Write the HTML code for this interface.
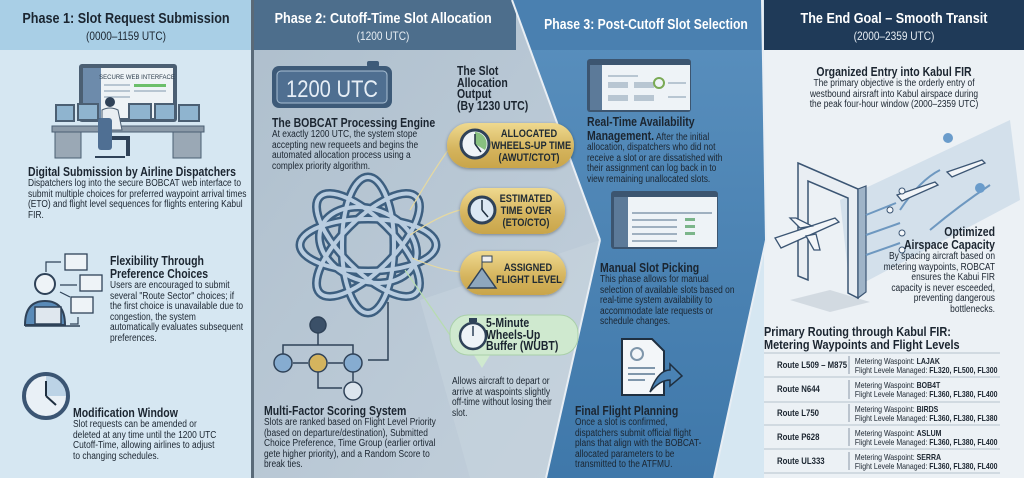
<!DOCTYPE html>
<html><head><meta charset="utf-8">
<style>
*{margin:0;padding:0;box-sizing:border-box}
body{width:1024px;height:478px;overflow:hidden;position:relative;font-family:"Liberation Sans",sans-serif;color:#1b2530;background:#d6e7f2}
.a{position:absolute;transform:scaleX(.84);transform-origin:0 0}
.r{transform-origin:100% 0}
.c{transform-origin:50% 0}
.h{font-weight:bold;font-size:12.5px;line-height:13px;white-space:nowrap}
.t{font-size:10px;line-height:10.6px}
.ht{font-weight:bold;font-size:15px;text-align:center;white-space:nowrap}
.sub{font-size:12px;text-align:center}
.pill{position:absolute;border-radius:22px;background:linear-gradient(180deg,#efd98f,#d4b35c 60%,#c9a54a);box-shadow:0 1px 3px rgba(0,0,0,.35)}
.pt{position:absolute;font-weight:bold;font-size:11px;line-height:12px;text-align:center;color:#1f2a33;white-space:nowrap;transform:scaleX(.84);transform-origin:50% 0}
</style></head><body>
<svg style="position:absolute;left:0;top:0" width="1024" height="478">
<defs>
<linearGradient id="g2" x1="0" y1="0" x2="1" y2="1"><stop offset="0" stop-color="#aebfcd"/><stop offset="1" stop-color="#c3d0dc"/></linearGradient>
<linearGradient id="g3" x1="0" y1="0" x2="0" y2="1"><stop offset="0" stop-color="#5a90be"/><stop offset="1" stop-color="#3f78aa"/></linearGradient>
</defs>
<rect x="0" y="0" width="252" height="478" fill="#d6e7f2"/>
<rect x="0" y="0" width="252" height="50" fill="#a9cfe6"/>
<rect x="254" y="0" width="350" height="478" fill="url(#g2)"/>
<polygon points="420,300 600,240 546,478 470,478" fill="#c6d3de" opacity=".6"/>
<rect x="254" y="0" width="262" height="50" fill="#4d6e8c"/>
<rect x="764" y="0" width="260" height="478" fill="#ecf1f5"/>
<rect x="764" y="0" width="260" height="50" fill="#1f3a58"/>
<polygon points="512,0 762,0 766,240 714,478 546,478 600,240" fill="url(#g3)"/>
<polygon points="512,0 762,0 762,50 530,50" fill="#4a80b0"/>
<line x1="512" y1="0" x2="600" y2="240" stroke="#e8eef4" stroke-width="2"/>
<line x1="600" y1="240" x2="546" y2="478" stroke="#e8eef4" stroke-width="2"/>
<line x1="762" y1="0" x2="766" y2="240" stroke="#e8eef4" stroke-width="2"/>
<line x1="766" y1="240" x2="714" y2="478" stroke="#e8eef4" stroke-width="2"/>
<rect x="251" y="0" width="3" height="478" fill="#5a6a78"/>

<rect x="79" y="64" width="98" height="58" rx="3" fill="#4b5f73"/>
<rect x="83" y="68" width="18" height="50" fill="#6d8bab"/>
<rect x="101" y="68" width="72" height="50" fill="#eef3f6"/>
<text x="137" y="79" font-size="6" text-anchor="middle" fill="#2d3d4c" font-family="Liberation Sans">SECURE WEB INTERFACE</text>
<rect x="134" y="84" width="32" height="3" fill="#6cbf6a"/>
<g fill="#b8c6d2"><rect x="104" y="84" width="26" height="2"/><rect x="104" y="90" width="26" height="2"/><rect x="104" y="96" width="26" height="2"/><rect x="134" y="90" width="32" height="2"/></g>
<g fill="#4b5f73">
<rect x="55" y="104" width="20" height="18"/><rect x="77" y="103" width="22" height="18"/><rect x="128" y="103" width="24" height="18"/><rect x="154" y="103" width="22" height="18"/><rect x="178" y="104" width="22" height="18"/>
</g>
<g fill="#8fb4cf"><rect x="57" y="106" width="16" height="14"/><rect x="79" y="105" width="18" height="14"/><rect x="130" y="105" width="20" height="14"/><rect x="156" y="105" width="18" height="14"/><rect x="180" y="106" width="18" height="14"/></g>
<rect x="52" y="126" width="152" height="6" fill="#8b9aa8" stroke="#4b5f73"/>
<rect x="55" y="132" width="26" height="26" fill="#9aa8b5" stroke="#4b5f73"/>
<rect x="173" y="132" width="28" height="26" fill="#9aa8b5" stroke="#4b5f73"/>
<circle cx="110" cy="102" r="5" fill="#2f4258"/>
<path d="M102 110 q8-4 16 0 l4 20 h-20z" fill="#e9eef2" stroke="#4b5f73"/>
<rect x="98" y="118" width="14" height="32" rx="3" fill="#4f6f93"/>
<path d="M112 138 h16 v18" stroke="#2f4258" stroke-width="4" fill="none"/>
<line x1="95" y1="157" x2="125" y2="157" stroke="#2f4258" stroke-width="2"/>

<circle cx="45" cy="284" r="10" fill="#eef3f7" stroke="#2f4258" stroke-width="2"/>
<path d="M25 325 q0-24 20-24 q20 0 20 24z" fill="#5a8bb8" stroke="#2f4258" stroke-width="2"/>
<rect x="35" y="307" width="26" height="17" fill="#dfe7ee" stroke="#2f4258" stroke-width="1.5"/>
<line x1="25" y1="326" x2="80" y2="326" stroke="#2f4258" stroke-width="1.5"/>
<g fill="#eef3f7" stroke="#2f4258" stroke-width="1.3">
<rect x="65" y="254" width="22" height="16"/><rect x="80" y="275" width="22" height="16"/><rect x="71" y="297" width="22" height="16"/></g>
<g stroke="#2f4258" fill="none" stroke-width="1.2"><path d="M46 272 v-10 h15"/><path d="M60 285 h17"/><path d="M60 292 l10 5"/><path d="M78 317 v7 h-8"/></g>
<circle cx="46" cy="396" r="22" fill="#e9f0f6" stroke="#3b5573" stroke-width="4"/>
<path d="M46 396 L46 376 A20 20 0 0 1 66 396 Z" fill="#9fc0dc" opacity=".6"/>
<path d="M46 396 V381 M46 396 L56 405" stroke="#1f2f40" stroke-width="2"/>

<rect x="272" y="66" width="120" height="42" rx="7" fill="#3d5a78"/>
<rect x="277" y="71" width="110" height="32" rx="4" fill="#4f6f91" stroke="#a8bfd3"/>
<rect x="367" y="61" width="12" height="6" rx="2" fill="#3d5a78"/>
<text x="286" y="97" font-size="24" textLength="92" lengthAdjust="spacingAndGlyphs" fill="#e6eef6" font-family="Liberation Sans">1200 UTC</text>

<g fill="none" stroke="#3d5f80" stroke-width="9">
<ellipse cx="368" cy="245" rx="68" ry="26"/><ellipse cx="368" cy="245" rx="68" ry="26" transform="rotate(45 368 245)"/><ellipse cx="368" cy="245" rx="68" ry="26" transform="rotate(90 368 245)"/><ellipse cx="368" cy="245" rx="68" ry="26" transform="rotate(135 368 245)"/>
<ellipse cx="368" cy="245" rx="50" ry="36" transform="rotate(20 368 245)"/>
</g>
<g fill="none" stroke="#b9cde0" stroke-width="4">
<ellipse cx="368" cy="245" rx="68" ry="26"/><ellipse cx="368" cy="245" rx="68" ry="26" transform="rotate(45 368 245)"/><ellipse cx="368" cy="245" rx="68" ry="26" transform="rotate(90 368 245)"/><ellipse cx="368" cy="245" rx="68" ry="26" transform="rotate(135 368 245)"/>
<ellipse cx="368" cy="245" rx="50" ry="36" transform="rotate(20 368 245)"/>
</g>
<g stroke="#e6d9a0" stroke-width="1.2" fill="none"><path d="M410 210 Q440 160 450 148"/><path d="M410 235 Q440 215 460 210"/><path d="M412 258 Q440 270 460 272"/></g>
<path d="M405 270 L450 335" stroke="#b7dcb0" stroke-width="1.2"/>
<g stroke="#2f4258" stroke-width="1.5" fill="none">
<path d="M388 302 V360 H368"/><path d="M318 333 V345 H283 V355 M318 345 H353 V355"/><path d="M293 363 H308 M328 363 H343"/><path d="M318 372 V388 H342"/><path d="M353 372 V381"/>
</g>
<circle cx="318" cy="325" r="8" fill="#3b5068" stroke="#2f4258" stroke-width="1.5"/>
<circle cx="283" cy="363" r="9" fill="#86acd0" stroke="#2f4258" stroke-width="1.5"/>
<circle cx="318" cy="363" r="9" fill="#d4b45e" stroke="#2f4258" stroke-width="1.5"/>
<circle cx="353" cy="363" r="9" fill="#86acd0" stroke="#2f4258" stroke-width="1.5"/>
<circle cx="353" cy="391" r="9" fill="#dbe5ee" stroke="#2f4258" stroke-width="1.5"/>

<path d="M472 352 L482 368 L492 352 Z" fill="#cfe9cf"/>
<rect x="450" y="315" width="128" height="40" rx="18" fill="#cfe9cf" stroke="#a9cfa9"/>
<circle cx="473" cy="336" r="13" fill="#eef3f7" stroke="#2f4258" stroke-width="2.5"/>
<rect x="469" y="318" width="8" height="4" fill="#2f4258"/>
<line x1="473" y1="336" x2="473" y2="326" stroke="#2f4258" stroke-width="1.5"/>

<rect x="587" y="59" width="104" height="53" rx="3" fill="#3c5570"/>
<rect x="590" y="65" width="100" height="45" fill="#eef3f7"/><rect x="590" y="65" width="12" height="45" fill="#5c7a99"/>
<g fill="#b8c6d2"><rect x="608" y="75" width="30" height="2"/><rect x="608" y="82" width="20" height="6"/><rect x="634" y="82" width="20" height="6"/><rect x="608" y="95" width="20" height="6"/><rect x="634" y="95" width="20" height="6"/><rect x="668" y="82" width="18" height="2"/><rect x="668" y="96" width="18" height="2"/></g>
<circle cx="659" cy="83" r="5" fill="none" stroke="#7aaa55" stroke-width="2"/>
<rect x="611" y="191" width="107" height="58" rx="3" fill="#3c5570"/>
<rect x="614" y="197" width="103" height="50" fill="#eef3f7"/><rect x="614" y="197" width="14" height="50" fill="#5c7a99"/>
<g fill="#7bb58a"><rect x="685" y="218" width="10" height="3"/><rect x="685" y="225" width="10" height="3"/><rect x="685" y="232" width="10" height="3"/></g>
<g fill="#9fb0c0"><rect x="632" y="212" width="80" height="2"/><rect x="632" y="219" width="45" height="2"/><rect x="632" y="226" width="45" height="2"/><rect x="632" y="233" width="45" height="2"/><rect x="632" y="240" width="45" height="2"/></g>
<path d="M622 339 h30 l12 12 v44 h-42z" fill="#f3f6f9" stroke="#1f2f40" stroke-width="2"/>
<circle cx="637" cy="354" r="6" fill="none" stroke="#7f96ab" stroke-width="2"/>
<g stroke="#7f96ab" stroke-width="2"><line x1="628" y1="368" x2="655" y2="368"/><line x1="628" y1="374" x2="655" y2="374"/><line x1="628" y1="380" x2="645" y2="380"/></g>
<path d="M650 392 q8-22 20-22 v-6 l12 12 -12 10 v-6 q-10 0-20 12z" fill="#4a82b4" stroke="#1f2f40" stroke-width="1.5"/>

<polygon points="840,200 1010,120 1020,200 850,290" fill="#c9d9e7" opacity=".7"/>
<path d="M790 300 l40 -10 l40 12 l-40 10z" fill="#c7d0d9" opacity=".7"/>
<polygon points="798,163 858,189 858,298 848,293 848,198 808,181 808,280 798,276" fill="#e9eef3" stroke="#3b5573" stroke-width="1.5"/>
<polygon points="858,189 866,186 866,292 858,298" fill="#9fb4c8" stroke="#3b5573" stroke-width="1.2"/>
<g stroke="#6e98c0" stroke-width="2" fill="none"><path d="M866 215 l30-12"/><path d="M866 235 l34-12"/><path d="M866 255 l34-12"/><path d="M900 210 q20-30 40-40"/><path d="M930 230 q30-25 60-45"/></g>
<g fill="#f2f5f8" stroke="#3b5573" stroke-width="1.3">
<path d="M775 238 l60 -20 l4 4 l-58 26z"/><path d="M800 228 l-10-10 h6 l16 8z"/><path d="M806 236 l8 14 h6 l-4-16z"/>
<path d="M897 195 l38 -13 l3 3 l-36 16z"/><path d="M947 172 l35 -12 l3 3 l-33 14z"/></g>
<g fill="#6a9ccb"><circle cx="948" cy="138" r="5"/><circle cx="980" cy="188" r="5"/></g>
<g fill="#f4f7fa" stroke="#3b5573"><circle cx="890" cy="210" r="3"/><circle cx="902" cy="191" r="3"/><circle cx="902" cy="233" r="3"/><circle cx="902" cy="250" r="3"/></g>
<g stroke="#b6c2cd" stroke-width="1"><line x1="764" y1="353" x2="1000" y2="353"/><line x1="764" y1="377" x2="1000" y2="377"/><line x1="764" y1="402" x2="1000" y2="402"/><line x1="764" y1="425" x2="1000" y2="425"/><line x1="764" y1="449" x2="1000" y2="449"/><line x1="764" y1="473" x2="1000" y2="473"/></g>
<g stroke="#8a98a6"><line x1="849" y1="356" x2="849" y2="374"/><line x1="849" y1="380" x2="849" y2="399"/><line x1="849" y1="404" x2="849" y2="422"/><line x1="849" y1="428" x2="849" y2="446"/><line x1="849" y1="452" x2="849" y2="470"/></g>
</svg>

<div class="a ht c" style="left:0;top:10px;width:252px">Phase 1: Slot Request Submission</div>
<div class="a sub c" style="left:0;top:29px;width:252px">(0000–1159 UTC)</div>
<div class="a ht c" style="left:254px;top:10px;width:258px;color:#fff">Phase 2: Cutoff-Time Slot Allocation</div>
<div class="a sub c" style="left:254px;top:29px;width:258px;color:#e6edf3">(1200 UTC)</div>
<div class="a ht c" style="left:520px;top:17px;width:252px;color:#fff;font-size:14.5px">Phase 3: Post-Cutoff Slot Selection</div>
<div class="a ht c" style="left:764px;top:10px;width:260px;color:#fff">The End Goal – Smooth Transit</div>
<div class="a sub c" style="left:764px;top:29px;width:260px;color:#e6edf3">(2000–2359 UTC)</div>

<div class="a h" style="left:28px;top:166px">Digital Submission by Airline Dispatchers</div>
<div class="a t" style="left:28px;top:179px;width:262px">Dispatchers log into the secure BOBCAT web interface to submit multiple choices for preferred waypoint arrival times (ETO) and flight level sequences for flights entering Kabul FIR.</div>
<div class="a h" style="left:110px;top:255px">Flexibility Through<br>Preference Choices</div>
<div class="a t" style="left:110px;top:281px;width:160px">Users are encouraged to submit several "Route Sector" choices; if the first choice is unavailable due to congestion, the system automatically evaluates subsequent preferences.</div>
<div class="a h" style="left:73px;top:407px">Modification Window</div>
<div class="a t" style="left:73px;top:420px;width:174px">Slot requests can be amended or deleted at any time until the 1200 UTC Cutoff-Time, allowing airlines to adjust to changing schedules.</div>

<div class="a h" style="left:272px;top:117px">The BOBCAT Processing Engine</div>
<div class="a t" style="left:272px;top:130px;width:200px">At exactly 1200 UTC, the system stope accepting new requeets and begins the automated allocation process using a complex priority algorithm.</div>
<div class="a h" style="left:457px;top:66px;font-size:12.5px;line-height:11.5px">The Slot<br>Allocation<br>Output<br>(By 1230 UTC)</div>
<div class="pill" style="left:447px;top:123px;width:127px;height:45px"></div>
<div class="pill" style="left:460px;top:188px;width:105px;height:46px"></div>
<div class="pill" style="left:460px;top:251px;width:106px;height:44px"></div>
<div class="pt" style="left:484px;top:128px;width:90px">ALLOCATED<br>WHEELS-UP TIME<br>(AWUT/CTOT)</div>
<div class="pt" style="left:490px;top:193px;width:72px">ESTIMATED<br>TIME OVER<br>(ETO/CTO)</div>
<div class="pt" style="left:490px;top:262px;width:76px">ASSIGNED<br>FLIGHT LEVEL</div>
<svg style="position:absolute;left:450px;top:120px" width="130" height="180">
<circle cx="25" cy="24" r="14" fill="#eef3f7" stroke="#2f4258" stroke-width="3"/><path d="M25 24 V12 A12 12 0 0 1 35 30Z" fill="#88c07f"/><path d="M25 24 V14 M25 24 l6 8" stroke="#1f2f40" stroke-width="1.5"/>
<circle cx="32" cy="90" r="13" fill="#dce8f3" stroke="#2f4258" stroke-width="3"/><path d="M32 90 V80 M32 90 l6 7" stroke="#1f2f40" stroke-width="1.5"/>
<path d="M18 168 l14-20 l14 20z" fill="#8ea7bd" stroke="#2f4258" stroke-width="1.5"/><path d="M32 148 v-12 h10 v6 h-10" fill="#eee" stroke="#2f4258"/>
</svg>
<div class="a" style="left:486px;top:318px;font-weight:bold;font-size:12.5px;line-height:11.5px;white-space:nowrap">5-Minute<br>Wheels-Up<br>Buffer (WUBT)</div>
<div class="a t" style="left:452px;top:377px;width:130px">Allows aircraft to depart or arrive at waspoints slightly off-time without losing their slot.</div>
<div class="a h" style="left:264px;top:405px">Multi-Factor Scoring System</div>
<div class="a t" style="left:264px;top:418px;width:212px">Slots are ranked based on Flight Level Priority (based on departure/destination), Submitted Choice Preference, Time Group (earlier ortival gete higher priority), and a Random Score to break ties.</div>

<div class="a t" style="left:587px;top:116px;width:172px"><b style="font-size:12.5px;line-height:12px">Real-Time Availability<br>Management.</b> After the initial allocation, dispatchers who did not receive a slot or are dissatished with their assignment can log back in to view remaining unallocated slots.</div>
<div class="a h" style="left:600px;top:262px">Manual Slot Picking</div>
<div class="a t" style="left:600px;top:275px;width:163px">This phase allows for manual selection of available slots based on real-time system availability to accommodate late requests or schedule changes.</div>
<div class="a h" style="left:575px;top:405px">Final Flight Planning</div>
<div class="a t" style="left:575px;top:418px;width:152px">Once a slot is confirmed, dispatchers submit official flight plans that align with the BOBCAT-allocated parameters to be transmitted to the ATFMU.</div>

<div class="a h c" style="left:764px;top:66px;width:260px;text-align:center">Organized Entry into Kabul FIR</div>
<div class="a t c" style="left:764px;top:79px;width:260px;text-align:center;white-space:nowrap">The primary objective is the orderly entry of<br>westbound airsraft into Kabul airspace during<br>the peak four-hour window (2000–2359 UTC)</div>
<div class="a h r" style="left:795px;top:226px;width:200px;text-align:right">Optimized<br>Airspace Capacity</div>
<div class="a t r" style="left:795px;top:252px;width:200px;text-align:right;white-space:nowrap">By spacing aircraft based on<br>metering waypoints, ROBCAT<br>ensures the Kabui FIR<br>capacity is never esceeded,<br>preventing dangerous<br>bottlenecks.</div>
<div class="a h" style="left:764px;top:325px;font-size:13px">Primary Routing through Kabul FIR:<br>Metering Waypoints and Flight Levels</div>
<div class="a" style="left:777px;top:357px;font-size:8.5px;line-height:9px;transform:scaleX(.82)">
<div style="position:absolute;top:4px;font-weight:bold;font-size:9.5px;white-space:nowrap">Route L509 – M875</div>
<div style="position:absolute;top:28px;font-weight:bold;font-size:9.5px;white-space:nowrap">Route N644</div>
<div style="position:absolute;top:52px;font-weight:bold;font-size:9.5px;white-space:nowrap">Route L750</div>
<div style="position:absolute;top:76px;font-weight:bold;font-size:9.5px;white-space:nowrap">Route P628</div>
<div style="position:absolute;top:100px;font-weight:bold;font-size:9.5px;white-space:nowrap">Route UL333</div>
<div style="position:absolute;left:95px;top:0;white-space:nowrap">Metering Waspoint: <b>LAJAK</b><br>Flight Levele Managed: <b>FL320, FL500, FL300</b></div>
<div style="position:absolute;left:95px;top:24px;white-space:nowrap">Metering Waspoint: <b>BOB4T</b><br>Flight Levele Managed: <b>FL360, FL380, FL400</b></div>
<div style="position:absolute;left:95px;top:48px;white-space:nowrap">Metering Waspoint: <b>BIRDS</b><br>Flight Levele Managed: <b>FL360, FL380, FL380</b></div>
<div style="position:absolute;left:95px;top:72px;white-space:nowrap">Metering Waspoint: <b>ASLUM</b><br>Flight Levele Managed: <b>FL360, FL380, FL400</b></div>
<div style="position:absolute;left:95px;top:96px;white-space:nowrap">Metering Waspoint: <b>SERRA</b><br>Flight Levele Managed: <b>FL360, FL380, FL400</b></div>
</div>
</body></html>
